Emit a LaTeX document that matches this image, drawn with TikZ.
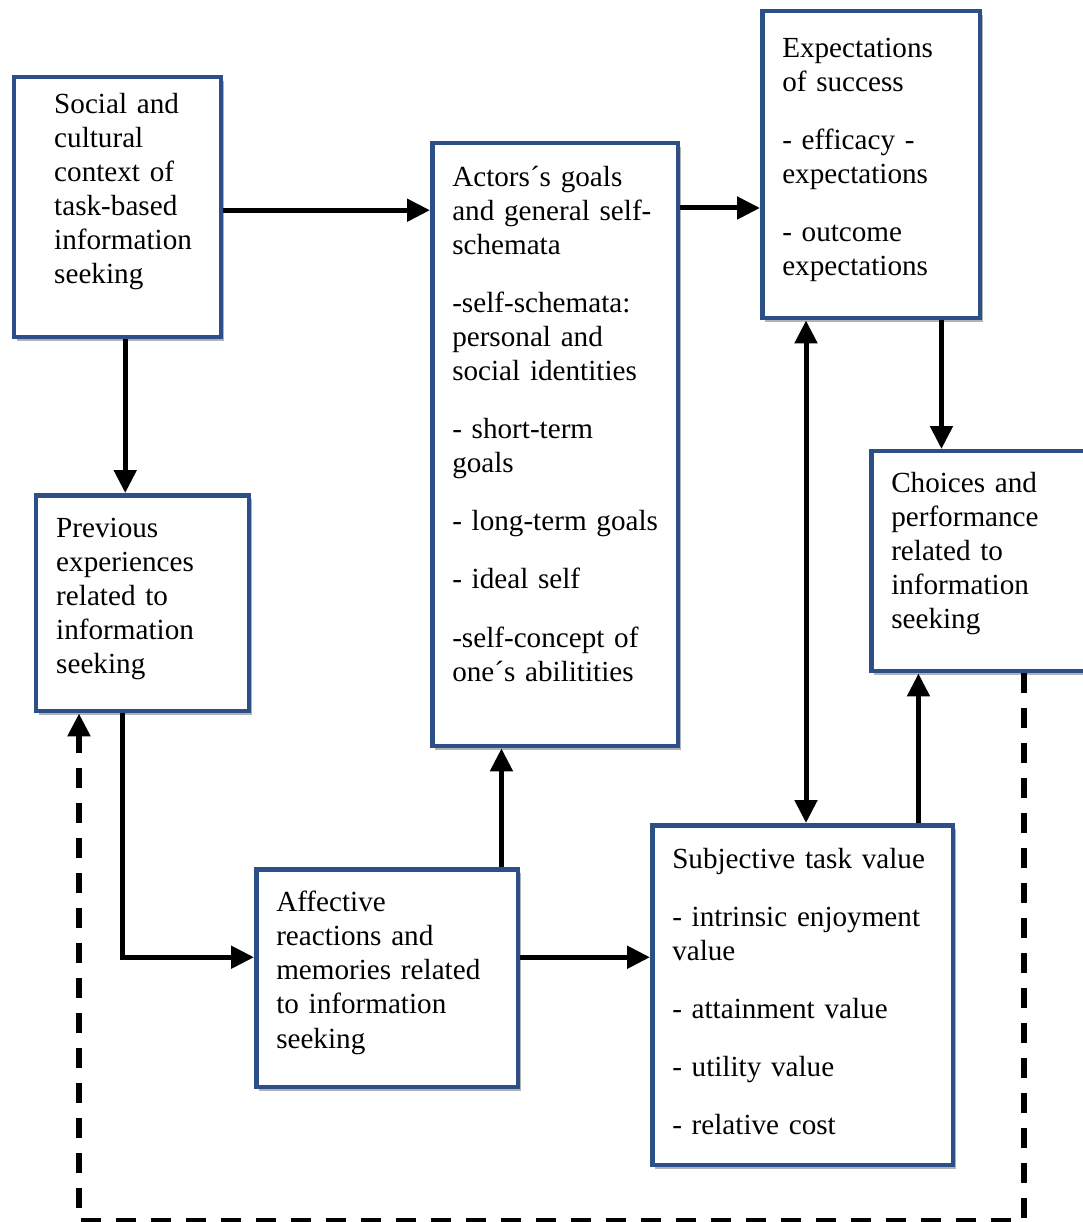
\documentclass[tikz,border=0pt]{standalone}
\usepackage{fontspec}
\setmainfont{Liberation Serif}
\usepackage{xcolor}
\usetikzlibrary{arrows.meta}
\usetikzlibrary{shadows}

\definecolor{boxblue}{RGB}{44,80,134}

\begin{document}
\begin{tikzpicture}[x=0.02cm,y=-0.02cm,
  >={Triangle[length=0.46cm,width=0.44cm]},
  box/.style={draw=boxblue,line width=0.09cm,fill=white,anchor=north west,
    align=left,inner xsep=0.4cm,inner ysep=0pt,
    font=\fontsize{16.6pt}{19.4pt}\selectfont,
    drop shadow={shadow xshift=0.05cm,shadow yshift=-0.07cm,opacity=0.3,fill=black}},
  arr/.style={->,line width=0.1cm},
  fbline/.style={->,line width=0.11cm,dash pattern=on 0.4cm off 0.3cm}]
\useasboundingbox (0,0) rectangle (1082,1222);

% boxes
\node[box,minimum width=4.14cm,minimum height=5.2cm,text width=3.34cm] (social) at (12,75)
  {\leftskip=0.4cm Social and\\ cultural\\ context of\\ task-based\\ information\\ seeking\par\kern0.62cm};
\node[box,minimum width=4.92cm,minimum height=12.06cm,text width=4.12cm] (actors) at (430,141)
  {Actors´s goals\\ and general self-\\ schemata\\[0.48cm]
   -self-schemata:\\ personal and\\ social identities\\[0.48cm]
   - short-term\\ goals\\[0.48cm]
   - long-term goals\\[0.48cm]
   - ideal self\\[0.48cm]
   -self-concept of\\ one´s abilitities\par\kern0.84cm};
\node[box,minimum width=4.36cm,minimum height=6.14cm,text width=3.56cm] (expect) at (760,9)
  {Expectations\\ of success\\[0.48cm]
   - efficacy -\\ expectations\\[0.48cm]
   - outcome\\ expectations\par\kern0.18cm};
\node[box,minimum width=4.9cm,minimum height=4.4cm,text width=4.1cm] (choice) at (869,449)
  {Choices and\\ performance\\ related to\\ information\\ seeking\par\kern0.3cm};
\node[box,minimum width=4.26cm,minimum height=4.32cm,text width=3.46cm] (prev) at (34,493)
  {Previous\\ experiences\\ related to\\ information\\ seeking\par\kern0.16cm};
\node[box,minimum width=5.24cm,minimum height=4.36cm,text width=4.44cm] (affect) at (254,867)
  {Affective\\ reactions and\\ memories related\\ to information\\ seeking\par\kern0.22cm};
\node[box,minimum width=6.02cm,minimum height=6.8cm,text width=5.22cm] (subj) at (650,823)
  {Subjective task value\\[0.48cm]
   - intrinsic enjoyment\\ value\\[0.48cm]
   - attainment value\\[0.48cm]
   - utility value\\[0.48cm]
   - relative cost\par\kern0.14cm};

% anchor points of the connectors
\coordinate (ae) at ([yshift=-1.34cm]actors.north east);
\coordinate (sp) at ([xshift=0.15cm]social.south);
\coordinate (ec) at ([xshift=-0.82cm]expect.south east);
\coordinate (pa) at ([xshift=1.78cm]prev.south west);
\coordinate (aw) at ([yshift=0.42cm]affect.west);
\coordinate (an) at ([xshift=-0.38cm]affect.north east);
\coordinate (es) at ([xshift=0.92cm]expect.south west);
\coordinate (sc) at ([xshift=-0.74cm]subj.north east);
\coordinate (cd) at ([xshift=3.1cm]choice.south west);
\coordinate (pd) at ([xshift=0.9cm]prev.south west);

% connectors
\draw[arr] ([yshift=-0.06cm]social.east) -- ([yshift=-0.06cm]social.east -| actors.west);
\draw[arr] (ae) -- (ae -| expect.west);
\draw[arr] (sp) -- (sp |- prev.north);
\draw[arr] (ec) -- (ec |- choice.north);
\draw[arr] (pa) |- (aw);
\draw[arr] (an) -- (an |- actors.south);
\draw[arr] (aw -| affect.east) -- (aw -| subj.west);
\draw[arr,<->] (es) -- (es |- subj.north);
\draw[arr] (sc) -- (sc |- choice.south);
\draw[fbline] (cd) -- ++(0,547) -| (pd);
\end{tikzpicture}
\end{document}
